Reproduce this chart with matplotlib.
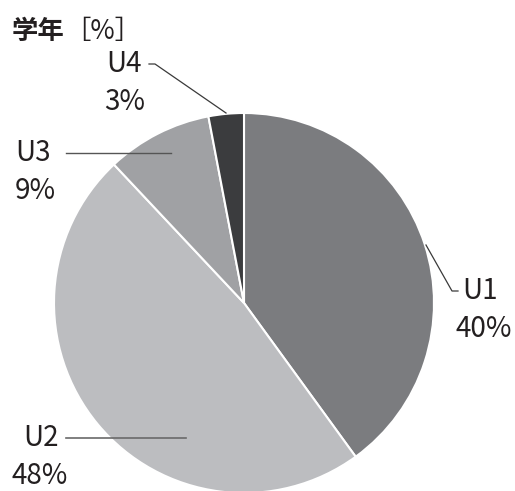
import matplotlib as mpl
mpl.use('Agg')
import matplotlib.pyplot as plt

plt.rcParams['font.family'] = ['Noto Sans CJK JP', 'DejaVu Sans']

# data
labels = ['U1', 'U2', 'U3', 'U4']
values = [40, 48, 9, 3]
colors = ['#7b7c7f', '#bcbdc0', '#a0a1a4', '#3b3c3e']
title = '学年'
unit = '［%］'

W, H = 515, 491
fig = plt.figure(figsize=(W / 100, H / 100), dpi=100)
ax = fig.add_axes([0, 0, 1, 1])

# pie drawn in pixel coords (y flipped -> counterclock=True gives clockwise look)
cx, cy, r = 244, 303, 190
ax.pie(values, colors=colors, startangle=-90, counterclock=True,
       center=(cx, cy), radius=r, frame=True,
       wedgeprops=dict(edgecolor='white', linewidth=1.5))
ax.set_xlim(0, W)
ax.set_ylim(H, 0)
ax.set_aspect('equal')
ax.axis('off')

txt = '#231f20'
fs = 20

ax.text(12, 31, title, fontsize=19, fontweight='bold', color=txt,
        ha='left', va='center')
ax.text(64, 31, unit, fontsize=19, color=txt, ha='left', va='center')

# leader lines
lc = '#3a3a3a'
ax.plot([426, 452, 458], [245, 291, 291], color=lc, lw=0.9)
ax.plot([66, 186], [438, 438], color='#6a6a6a', lw=1.2)
ax.plot([66, 171], [153, 153], color='#555555', lw=1.0)
ax.plot([149, 155, 226], [64, 64, 113], color=lc, lw=0.9)

# labels
ax.text(462, 291, labels[0], fontsize=fs, color=txt, ha='left', va='center')
ax.text(456, 329, f'{values[0]}%', fontsize=fs, color=txt, ha='left', va='center')
ax.text(59, 438, labels[1], fontsize=fs, color=txt, ha='right', va='center')
ax.text(12, 476, f'{values[1]}%', fontsize=fs, color=txt, ha='left', va='center')
ax.text(15, 153, labels[2], fontsize=fs, color=txt, ha='left', va='center')
ax.text(15, 191, f'{values[2]}%', fontsize=fs, color=txt, ha='left', va='center')
ax.text(142, 64, labels[3], fontsize=fs, color=txt, ha='right', va='center')
ax.text(104, 102, f'{values[3]}%', fontsize=fs, color=txt, ha='left', va='center')

fig.savefig('out.png', dpi=100)
